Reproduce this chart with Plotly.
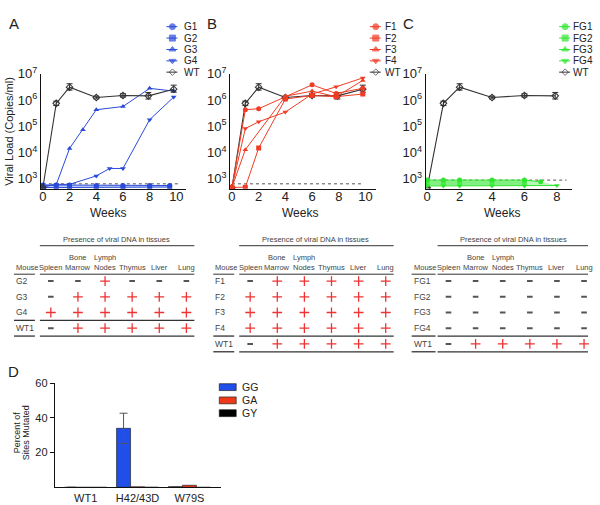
import plotly.graph_objects as go

W, H = 600, 505

# ---------------- data ----------------
weeks_wt = [0, 1, 2, 4, 6, 7.9, 9.8]
wt_load = [460, 7.5e5, 3.1e6, 1.25e6, 1.5e6, 1.45e6, 2.6e6]
wt_err_up = [0, 1.6e5, 1.1e6, 1.6e5, 2.5e5, 5.0e5, 1.1e6]
wt_err_dn = [0, 1.3e5, 7.0e5, 1.4e5, 2.0e5, 3.5e5, 6.0e5]

g1_weeks = [0, 1, 2, 4, 6, 8, 9.5]
g1_load = [590, 590, 590, 560, 560, 560, 560]
g2_weeks = [0, 1, 2, 4, 6, 8, 9.5]
g2_load = [470, 470, 470, 480, 480, 480, 490]
g3_weeks = [0, 1, 2, 3, 4, 6, 8, 9.8]
g3_load = [520, 600, 1.45e4, 7.5e4, 4.3e5, 5.7e5, 2.8e6, 2.2e6]
g4_weeks = [0, 1, 2, 4, 5, 6, 8, 9.8]
g4_load = [500, 620, 620, 1.3e3, 2.5e3, 2.5e3, 1.8e5, 1.3e6]

f_weeks = [0, 1, 2, 4, 6, 7.8, 9.8]
f1_load = [480, 4.3e5, 4.7e5, 1.3e6, 3.8e6, 1.8e6, 2.8e6]
f2_load = [480, 480, 1.5e4, 1.1e6, 1.5e6, 1.35e6, 1.7e6]
f3_weeks = [0, 1, 4, 6, 7.8, 9.8]
f3_load = [480, 1.3e4, 1.4e6, 2.2e6, 1.35e6, 5.6e6]
f4_load = [480, 8.3e4, 1.5e5, 3.5e5, 1.7e6, 3.2e6, 7.0e6]

fg1_weeks = [0, 1, 2, 4, 6, 7]
fg1_load = [900, 900, 900, 900, 900, 780]
fg2_weeks = [0, 1, 2, 4, 6]
fg2_load = [760, 760, 760, 760, 760]
fg3_weeks = [0, 1, 2, 4, 6]
fg3_load = [640, 640, 640, 640, 640]
fg4_weeks = [0, 1, 2, 4, 6, 8]
fg4_load = [540, 540, 540, 540, 540, 560]

detect_limit_ab = 650
detect_limit_c = 900

tissues = ["Spleen", "Bone Marrow", "Lymph Nodes", "Thymus", "Liver", "Lung"]
tissue_top = ["", "Bone", "Lymph", "", "", ""]
tissue_bottom = ["Spleen", "Marrow", "Nodes", "Thymus", "Liver", "Lung"]
mice_a = ["G2", "G3", "G4", "WT1"]
pres_a = [["-", "-", "+", "-", "-", "-"],
          ["-", "+", "+", "+", "+", "+"],
          ["+", "+", "+", "+", "+", "+"],
          ["-", "+", "+", "+", "+", "+"]]
mice_b = ["F1", "F2", "F3", "F4", "WT1"]
pres_b = [["-", "+", "+", "+", "+", "+"],
          ["+", "+", "+", "+", "+", "+"],
          ["+", "+", "+", "+", "+", "+"],
          ["+", "+", "+", "+", "+", "+"],
          ["-", "+", "+", "+", "+", "+"]]
mice_c = ["FG1", "FG2", "FG3", "FG4", "WT1"]
pres_c = [["-", "-", "-", "-", "-", "-"],
          ["-", "-", "-", "-", "-", "-"],
          ["-", "-", "-", "-", "-", "-"],
          ["-", "-", "-", "-", "-", "-"],
          ["-", "+", "+", "+", "+", "+"]]

mut_cats = ["WT1", "H42/43D", "W79S"]
mut_gg = [0, 34, 0.4]
mut_gg_err = [None, 8.7, None]
mut_ga = [0, 0.3, 1.2]
mut_gy = [0, 0.05, 0]

# ---------------- styles ----------------
FONT = "Liberation Sans, Arial, sans-serif"
BLUE = "#2a4ad8"
RED = "#f03c24"
GREEN = "#2ee62e"
WTC = "#333333"
TXT = "#222222"
TBL = "#444444"


def X(px):
    return px / W


def Y(py):
    return 1 - py / H


def xdom(a, b):
    return [a / W, b / W]


def ydom(top, bot):
    return [1 - bot / H, 1 - top / H]


fig = go.Figure()


def series(x, y, color, symbol, xa, ya, size=5, fill=None, fillcolor=None, width=1):
    fig.add_trace(go.Scatter(
        x=x, y=y, mode="lines+markers",
        line=dict(color=color, width=width),
        marker=dict(symbol=symbol, size=size, color=color),
        fill=fill, fillcolor=fillcolor,
        xaxis=xa, yaxis=ya, showlegend=False, hoverinfo="skip"))


def wt_trace(n, xa, ya):
    fig.add_trace(go.Scatter(
        x=weeks_wt[:n], y=wt_load[:n], mode="lines+markers",
        line=dict(color=WTC, width=1.1),
        marker=dict(symbol="diamond-open", size=5, color=WTC, line=dict(width=1.1)),
        error_y=dict(type="data", symmetric=False, array=wt_err_up[:n],
                     arrayminus=wt_err_dn[:n], color=WTC, thickness=1, width=3),
        xaxis=xa, yaxis=ya, showlegend=False, hoverinfo="skip"))


def limit_line(lim, xend, xa, ya):
    fig.add_trace(go.Scatter(
        x=[0, xend], y=[lim, lim], mode="lines",
        line=dict(color="#555", width=1, dash="dot"),
        xaxis=xa, yaxis=ya, showlegend=False, hoverinfo="skip"))


# ---- Panel A ----
limit_line(detect_limit_ab, 10.3, "x", "y")
series(g2_weeks, g2_load, BLUE, "square", "x", "y")
series(g1_weeks, g1_load, BLUE, "circle", "x", "y", fill="tonexty",
       fillcolor="rgba(120,150,240,0.45)")
series(g3_weeks, g3_load, BLUE, "triangle-up", "x", "y")
series(g4_weeks, g4_load, BLUE, "triangle-down", "x", "y")
wt_trace(7, "x", "y")

# ---- Panel B ----
limit_line(detect_limit_ab, 9.7, "x2", "y2")
wt_trace(7, "x2", "y2")
series(f_weeks, f1_load, RED, "circle", "x2", "y2")
series(f_weeks, f2_load, RED, "square", "x2", "y2")
series(f3_weeks, f3_load, RED, "triangle-up", "x2", "y2")
series(f_weeks, f4_load, RED, "triangle-down", "x2", "y2")

# ---- Panel C ----
limit_line(detect_limit_c, 8.6, "x3", "y3")
wt_trace(6, "x3", "y3")
series(fg2_weeks, fg2_load, GREEN, "square", "x3", "y3")
series(fg3_weeks, fg3_load, GREEN, "triangle-up", "x3", "y3")
series(fg1_weeks, fg1_load, GREEN, "circle", "x3", "y3")
series(fg4_weeks, fg4_load, GREEN, "triangle-down", "x3", "y3", fill="tonexty",
       fillcolor="rgba(110,240,110,0.5)")

# ---- Panel D ----
for vals, name, col, err in [(mut_gg, "GG", "#1f4fe8", mut_gg_err),
                             (mut_ga, "GA", "#ee3a1c", None),
                             (mut_gy, "GY", "#000000", None)]:
    fig.add_trace(go.Bar(
        x=mut_cats, y=vals, name=name,
        marker=dict(color=col, line=dict(color="#111", width=0.6)),
        error_y=(dict(type="data", array=err, color="#555", thickness=1, width=4)
                 if err else None),
        xaxis="x4", yaxis="y4", showlegend=False, hoverinfo="skip"))

# ---- Tables ----
def add_table(mice, pres, xa, ya):
    xp, yp, xm, ym = [], [], [], []
    for i, m in enumerate(mice):
        for j, t in enumerate(tissues):
            if pres[i][j] == "+":
                xp.append(t); yp.append(m)
            else:
                xm.append(t); ym.append(m)
    fig.add_trace(go.Scatter(
        x=xp, y=yp, mode="markers",
        marker=dict(symbol="cross-thin", size=7, color="#ee3333",
                    line=dict(width=1.3, color="#ee3333")),
        xaxis=xa, yaxis=ya, showlegend=False, hoverinfo="skip"))
    fig.add_trace(go.Scatter(
        x=xm, y=ym, mode="markers",
        marker=dict(symbol="line-ew", size=4, color="#555",
                    line=dict(width=2, color="#555")),
        xaxis=xa, yaxis=ya, showlegend=False, hoverinfo="skip"))


add_table(mice_a, pres_a, "x5", "y5")
add_table(mice_b, pres_b, "x6", "y6")
add_table(mice_c, pres_c, "x7", "y7")

# ---------------- layout ----------------
tick_vals = [1e3, 1e4, 1e5, 1e6, 1e7]
tick_text = ["10<sup>3</sup>", "10<sup>4</sup>", "10<sup>5</sup>",
             "10<sup>6</sup>", "10<sup>7</sup>"]


def logy(anchor):
    return dict(domain=ydom(66, 183), type="log", range=[2.626, 7],
                tickvals=tick_vals, ticktext=tick_text, showline=True,
                linecolor="#111", linewidth=1, ticks="", showgrid=False,
                zeroline=False, tickfont=dict(size=13, color=TXT), anchor=anchor)


def linx(a, b, rng, tv, anchor):
    return dict(domain=xdom(a, b), range=rng, tickvals=tv, showline=True,
                linecolor="#111", linewidth=1, ticks="", showgrid=False,
                zeroline=False, tickfont=dict(size=13, color=TXT), anchor=anchor,
                ticklabelstandoff=-4)


SP = 27.2
layout = dict(
    width=W, height=H, margin=dict(l=0, r=0, t=0, b=0, pad=0),
    paper_bgcolor="white", plot_bgcolor="rgba(0,0,0,0)",
    font=dict(family=FONT, color=TXT), showlegend=False,
    barmode="group", bargap=0.19, bargroupgap=0,
    xaxis=linx(39, 185, [-0.15, 10.75], [0, 2, 4, 6, 8, 10], "y"),
    yaxis=logy("x"),
    xaxis2=linx(229, 375, [-0.13, 10.77], [0, 2, 4, 6, 8, 10], "y2"),
    yaxis2=logy("x2"),
    xaxis3=linx(425, 572, [-0.1, 8.94], [0, 2, 4, 6, 8], "y3"),
    yaxis3=logy("x3"),
    xaxis4=dict(domain=xdom(53, 220), type="category", range=[-0.596, 2.615],
                showline=True, linecolor="#111", linewidth=1, ticks="",
                showgrid=False, zeroline=False,
                tickfont=dict(size=11, color=TXT), anchor="y4"),
    yaxis4=dict(domain=ydom(381, 487), range=[0, 60], tickvals=[20, 40, 60],
                showline=True, linecolor="#111", linewidth=1, ticks="outside",
                ticklen=4, tickcolor="#111", showgrid=False, zeroline=False,
                tickfont=dict(size=11, color=TXT), anchor="x4"),
)

for k, (mice, off) in enumerate([(mice_a, 0), (mice_b, 200), (mice_c, 399)]):
    n = len(mice)
    x0 = 49 + off
    layout["xaxis%d" % (5 + k)] = dict(
        domain=xdom(x0 - SP / 2, x0 + 5 * SP + SP / 2), type="category",
        categoryorder="array", categoryarray=tissues, range=[-0.5, 5.5],
        visible=False, anchor="y%d" % (5 + k))
    layout["yaxis%d" % (5 + k)] = dict(
        domain=ydom(269, 269 + 16 * n), type="category",
        categoryorder="array", categoryarray=mice, range=[n - 0.5, -0.5],
        visible=False, anchor="x%d" % (5 + k))

fig.update_layout(**layout)

ann = []
shapes = []


def text(x, y, s, size, color=TXT, anchor="center", angle=0):
    ann.append(dict(x=X(x), y=Y(y), xref="paper", yref="paper", text=s,
                    showarrow=False, xanchor=anchor, yanchor="middle",
                    textangle=angle, font=dict(size=size, color=color, family=FONT)))


def hline(x0, x1, y, w=1, color="#333"):
    shapes.append(dict(type="line", xref="paper", yref="paper", x0=X(x0), x1=X(x1),
                       y0=Y(y), y1=Y(y), line=dict(color=color, width=w)))


# panel letters
text(12, 15, "A", 15)
text(211, 15, "B", 15)
text(408, 15, "C", 15)
text(12, 369, "D", 15)

# axis titles
text(7, 124, "Viral Load (Copies/ml)", 11, angle=-90)
text(106, 208, "Weeks", 12)
text(299, 208, "Weeks", 12)
text(502, 208, "Weeks", 12)
text(15, 431, "Percent of", 9, angle=-90)
text(24, 431, "Sites Mutated", 9, angle=-90)

# manual legends (overlay pixel axis)
legend_sets = [
    (171, 181, BLUE, ["G1", "G2", "G3", "G4"]),
    (375, 382, RED, ["F1", "F2", "F3", "F4"]),
    (565, 571, GREEN, ["FG1", "FG2", "FG3", "FG4"]),
]
syms = ["circle", "square", "triangle-up", "triangle-down"]
rows = [18, 29.6, 41.2, 52.8, 64.3]
for mx, tx, col, names in legend_sets:
    for i in range(5):
        if i < 4:
            c, s, nm, sz = col, syms[i], names[i], 6
        else:
            c, s, nm, sz = WTC, "diamond-open", "WT", 5
        fig.add_trace(go.Scatter(
            x=[mx - 6, mx, mx + 5], y=[rows[i]] * 3, mode="lines+markers",
            line=dict(color=c, width=1),
            marker=dict(symbol=s, size=[0, sz, 0], color=c, line=dict(width=1, color=c)),
            xaxis="x8", yaxis="y8", showlegend=False, hoverinfo="skip"))
        text(tx, rows[i], nm, 10, anchor="left")

fig.update_layout(
    xaxis8=dict(domain=[0, 1], range=[0, W], visible=False, anchor="y8", fixedrange=True),
    yaxis8=dict(domain=[0, 1], range=[H, 0], visible=False, anchor="x8", fixedrange=True),
)

# legend D
for lab, col, yc in [("GG", "#1f4fe8", 385), ("GA", "#ee3a1c", 398.5), ("GY", "#000000", 411.5)]:
    shapes.append(dict(type="rect", xref="paper", yref="paper", x0=X(218), x1=X(235),
                       y0=Y(yc + 3.5), y1=Y(yc - 3.5), fillcolor=col,
                       line=dict(color="#111", width=0.6)))
    text(239, yc, lab, 10.5, anchor="left")

# tables: headers, labels, rules
for mice, off, mouse_x, title_c, lstart, lend, mouse_end in [
        (mice_a, 0, 12, 115, 38, 193, 33),
        (mice_b, 200, 212, 315, 238, 393, 233),
        (mice_c, 399, 411, 513, 437, 588, 435)]:
    n = len(mice)
    text(title_c, 235, "Presence of viral DNA in tissues", 7.5, color=TBL)
    hline(lstart, lend, 241)
    text(mouse_x, 263.5, "Mouse", 7.5, color=TBL, anchor="left")
    for j in range(6):
        cx = 49 + off + SP * j
        if tissue_top[j]:
            text(cx, 252.5, tissue_top[j], 7.5, color=TBL)
        text(cx, 263.5, tissue_bottom[j], 7.5, color=TBL)
    for i, m in enumerate(mice):
        text(mouse_x, 277 + 16 * i, m, 8.5, color=TBL, anchor="left")
    bottom = 269 + 16 * n
    for yl, w in [(270, 1), (bottom - 16, 1.3), (bottom, 1.3)]:
        hline(mouse_x, mouse_end, yl, w)
        hline(lstart, lend, yl, w)

fig.update_layout(annotations=ann, shapes=shapes)
fig.write_html("out.html")
